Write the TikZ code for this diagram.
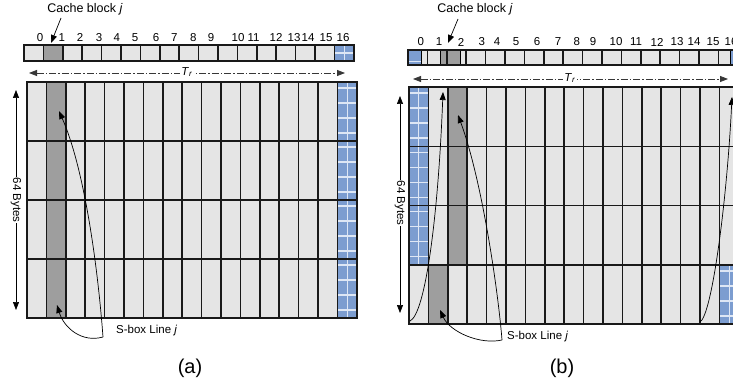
\documentclass[tikz,border=0pt]{standalone}
\usepackage{fontspec}
\setmainfont{Liberation Sans}
\usetikzlibrary{arrows.meta}
\definecolor{cellgray}{RGB}{229,229,229}
\definecolor{darkcell}{RGB}{158,158,158}
\definecolor{bluecell}{RGB}{124,157,208}
\definecolor{bluegrid}{RGB}{222,231,245}
\definecolor{dashgray}{RGB}{55,55,55}
\newcommand{\bluepatch}[4]{%
  \fill[bluecell] (#1,#2) rectangle (#3,#4);
  \draw[bluegrid,line width=1.2pt] ({(#1+#3)/2},#2) -- ({(#1+#3)/2},#4);
  \foreach \hh in {6,21,36,51} {\draw[bluegrid,line width=1.2pt] (#1,#2+\hh) -- (#3,#2+\hh);}
}
\begin{document}
\begin{tikzpicture}[x=1pt,y=-1pt,
  gline/.style={line width=1.5pt,black!90,line cap=rect},
  thingline/.style={line width=0.8pt,black},
  lbl/.style={font=\fontsize{11.5}{13}\selectfont,inner sep=0pt},
  num/.style={font=\fontsize{11.5}{13}\selectfont,inner sep=0pt},
  cbl/.style={font=\fontsize{12.5}{14}\selectfont,inner sep=0pt},
  big/.style={font=\fontsize{20}{24}\selectfont,inner sep=0pt},
  tip/.style={-{Triangle[length=8pt,width=6pt]}},
  twotip/.style={{Triangle[length=8pt,width=6pt]}-{Triangle[length=8pt,width=6pt]}},
  conn/.style={line width=0.7pt,black},
  trline/.style={dashgray,line width=0.8pt,dash pattern=on 7pt off 2pt on 1.5pt off 2pt,twotip}
]
\clip (0,0) rectangle (733,387);
\fill[white] (0,0) rectangle (733,387);

% ================= (a) =================
% top cache bar
\fill[cellgray] (24,45) rectangle (353.8,61);
\fill[darkcell] (43.4,45) rectangle (62.8,61);
\fill[bluecell] (334.4,45) rectangle (353.8,61);
\draw[bluegrid,line width=1.2pt] (344.1,45) -- (344.1,61);
\draw[bluegrid,line width=1.2pt] (334.4,53) -- (353.8,53);
\foreach \k in {0,...,17} \draw[gline] (24+19.4*\k,45) -- (24+19.4*\k,61);
\draw[gline] (24,45) -- (353.8,45);
\draw[gline] (24,61) -- (353.8,61);
\foreach \x/\t in {40/0,61.7/1,80/2,99/3,116.7/4,135/5,156/6,174.3/7,193.3/8,211/9,238/10,253.5/11,276/12,294/13,308/14,326/15,343/16}
  \node[num] (la\t) at (\x,37.5) {\t};

% main table
\fill[cellgray] (27,82) rectangle (356.8,318);
\fill[darkcell] (46.4,82) rectangle (65.8,318);
\foreach \yt in {82,141,200,259} {\bluepatch{337.4}{\yt}{356.8}{\yt+59}}
\foreach \k in {0,...,17} \draw[gline] (27+19.4*\k,82) -- (27+19.4*\k,318);
\foreach \yy in {82,141,200,259,318} \draw[gline] (27,\yy) -- (356.8,\yy);

% labels and arrows
\node[cbl] (cba) at (85,9) {Cache block \textit{j}};
\coordinate (cbas) at (61,18);
\coordinate (cbae) at (51,43);
\draw[conn,tip] (cbas) -- (cbae);

\coordinate (tral) at (29,73);
\coordinate (trar) at (345,73);
\draw[trline] (tral) -- (trar);
\node[lbl,fill=white,inner sep=1pt] (tra) at (187,72) {\textit{T}\textsubscript{\textit{r}}};

\coordinate (bya1) at (16,90);
\coordinate (bya2) at (16,310);
\draw[conn,twotip] (bya1) -- (bya2);
\node[lbl,fill=white,inner sep=1pt,rotate=-90] (bya) at (16,200) {64 Bytes};

\coordinate (ja) at (103,337);
\coordinate (ta1) at (59,111);
\coordinate (ta2) at (57,305);
\draw[conn,tip] (ja) .. controls (98,270) and (85,170) .. (ta1);
\draw[conn,tip] (ja) .. controls (82,343) and (64,328) .. (ta2);
\node[lbl,anchor=west] (sba) at (116,331) {S-box Line \textit{j}};
\node[big] (capa) at (190,368) {(a)};

% ================= (b) =================
% top cache bar
\fill[cellgray] (408,50) rectangle (745,65);
\fill[bluecell] (408,50) rectangle (421,65);
\draw[bluegrid,line width=1pt] (408,62) -- (421,62);
\fill[darkcell] (440,50) rectangle (460,65);
\fill[bluecell] (730,50) rectangle (745,65);
\foreach \k in {0,...,17} \draw[gline] (408+19.4*\k,50) -- (408+19.4*\k,65);
\foreach \x in {421,440,460,730} \draw[thingline] (\x,50) -- (\x,65);
\draw[gline] (408,50) -- (745,50);
\draw[gline] (408,65) -- (745,65);
\foreach \x/\t in {420.7/0,439/1,461/2,481.7/3,497/4,516/5,537/6,558/7,576.7/8,593/9,616/10,636/11,657/12,677/13,694/14,713/15,731/16}
  \node[num] (lb\t) at (\x,42) {\t};

% main table
\fill[cellgray] (409,87) rectangle (745,324.2);
\fill[darkcell] (447.8,87) rectangle (467.2,264.9);
\fill[darkcell] (428.4,264.9) rectangle (447.8,324.2);
\foreach \yt in {87,146.3,205.6} {\bluepatch{409}{\yt}{428.4}{\yt+59.3}}
\bluepatch{719.4}{264.9}{738.8}{324.2}
\foreach \k in {0,...,17} \draw[gline] (409+19.4*\k,87) -- (409+19.4*\k,324.2);
\foreach \yy in {87,146.3,205.6,264.9,324.2} \draw[gline] (409,\yy) -- (745,\yy);

% labels and arrows
\node[cbl] (cbb) at (475,9) {Cache block \textit{j}};
\coordinate (cbbs) at (458,19);
\coordinate (cbbe) at (448,43);
\draw[conn,tip] (cbbs) -- (cbbe);

\coordinate (trbl) at (413,79);
\coordinate (trbr) at (728,79);
\draw[trline] (trbl) -- (trbr);
\node[lbl,fill=white,inner sep=1pt] (trb) at (570,78) {\textit{T}\textsubscript{\textit{r}}};

\coordinate (byb1) at (400,96);
\coordinate (byb2) at (400,313);
\draw[conn,twotip] (byb1) -- (byb2);
\node[lbl,fill=white,inner sep=1pt,rotate=-90] (byb) at (400,203) {64 Bytes};

\coordinate (c1s) at (410,321);
\coordinate (c1e) at (443,92);
\draw[conn,tip] (c1s) .. controls (425,314) and (438,220) .. (c1e);
\coordinate (jb) at (502,340);
\coordinate (tb1) at (458,115);
\coordinate (tb2) at (440,310);
\draw[conn,tip] (jb) .. controls (498,290) and (482,180) .. (tb1);
\draw[conn,tip] (jb) .. controls (480,345) and (450,332) .. (tb2);
\coordinate (c4s) at (700,322);
\coordinate (c4e) at (732,97);
\draw[conn,tip] (c4s) .. controls (712,315) and (727,200) .. (c4e);
\node[lbl,anchor=west] (sbb) at (507,337) {S-box Line \textit{j}};
\node[big] (capb) at (562,368) {(b)};
\end{tikzpicture}
\end{document}
